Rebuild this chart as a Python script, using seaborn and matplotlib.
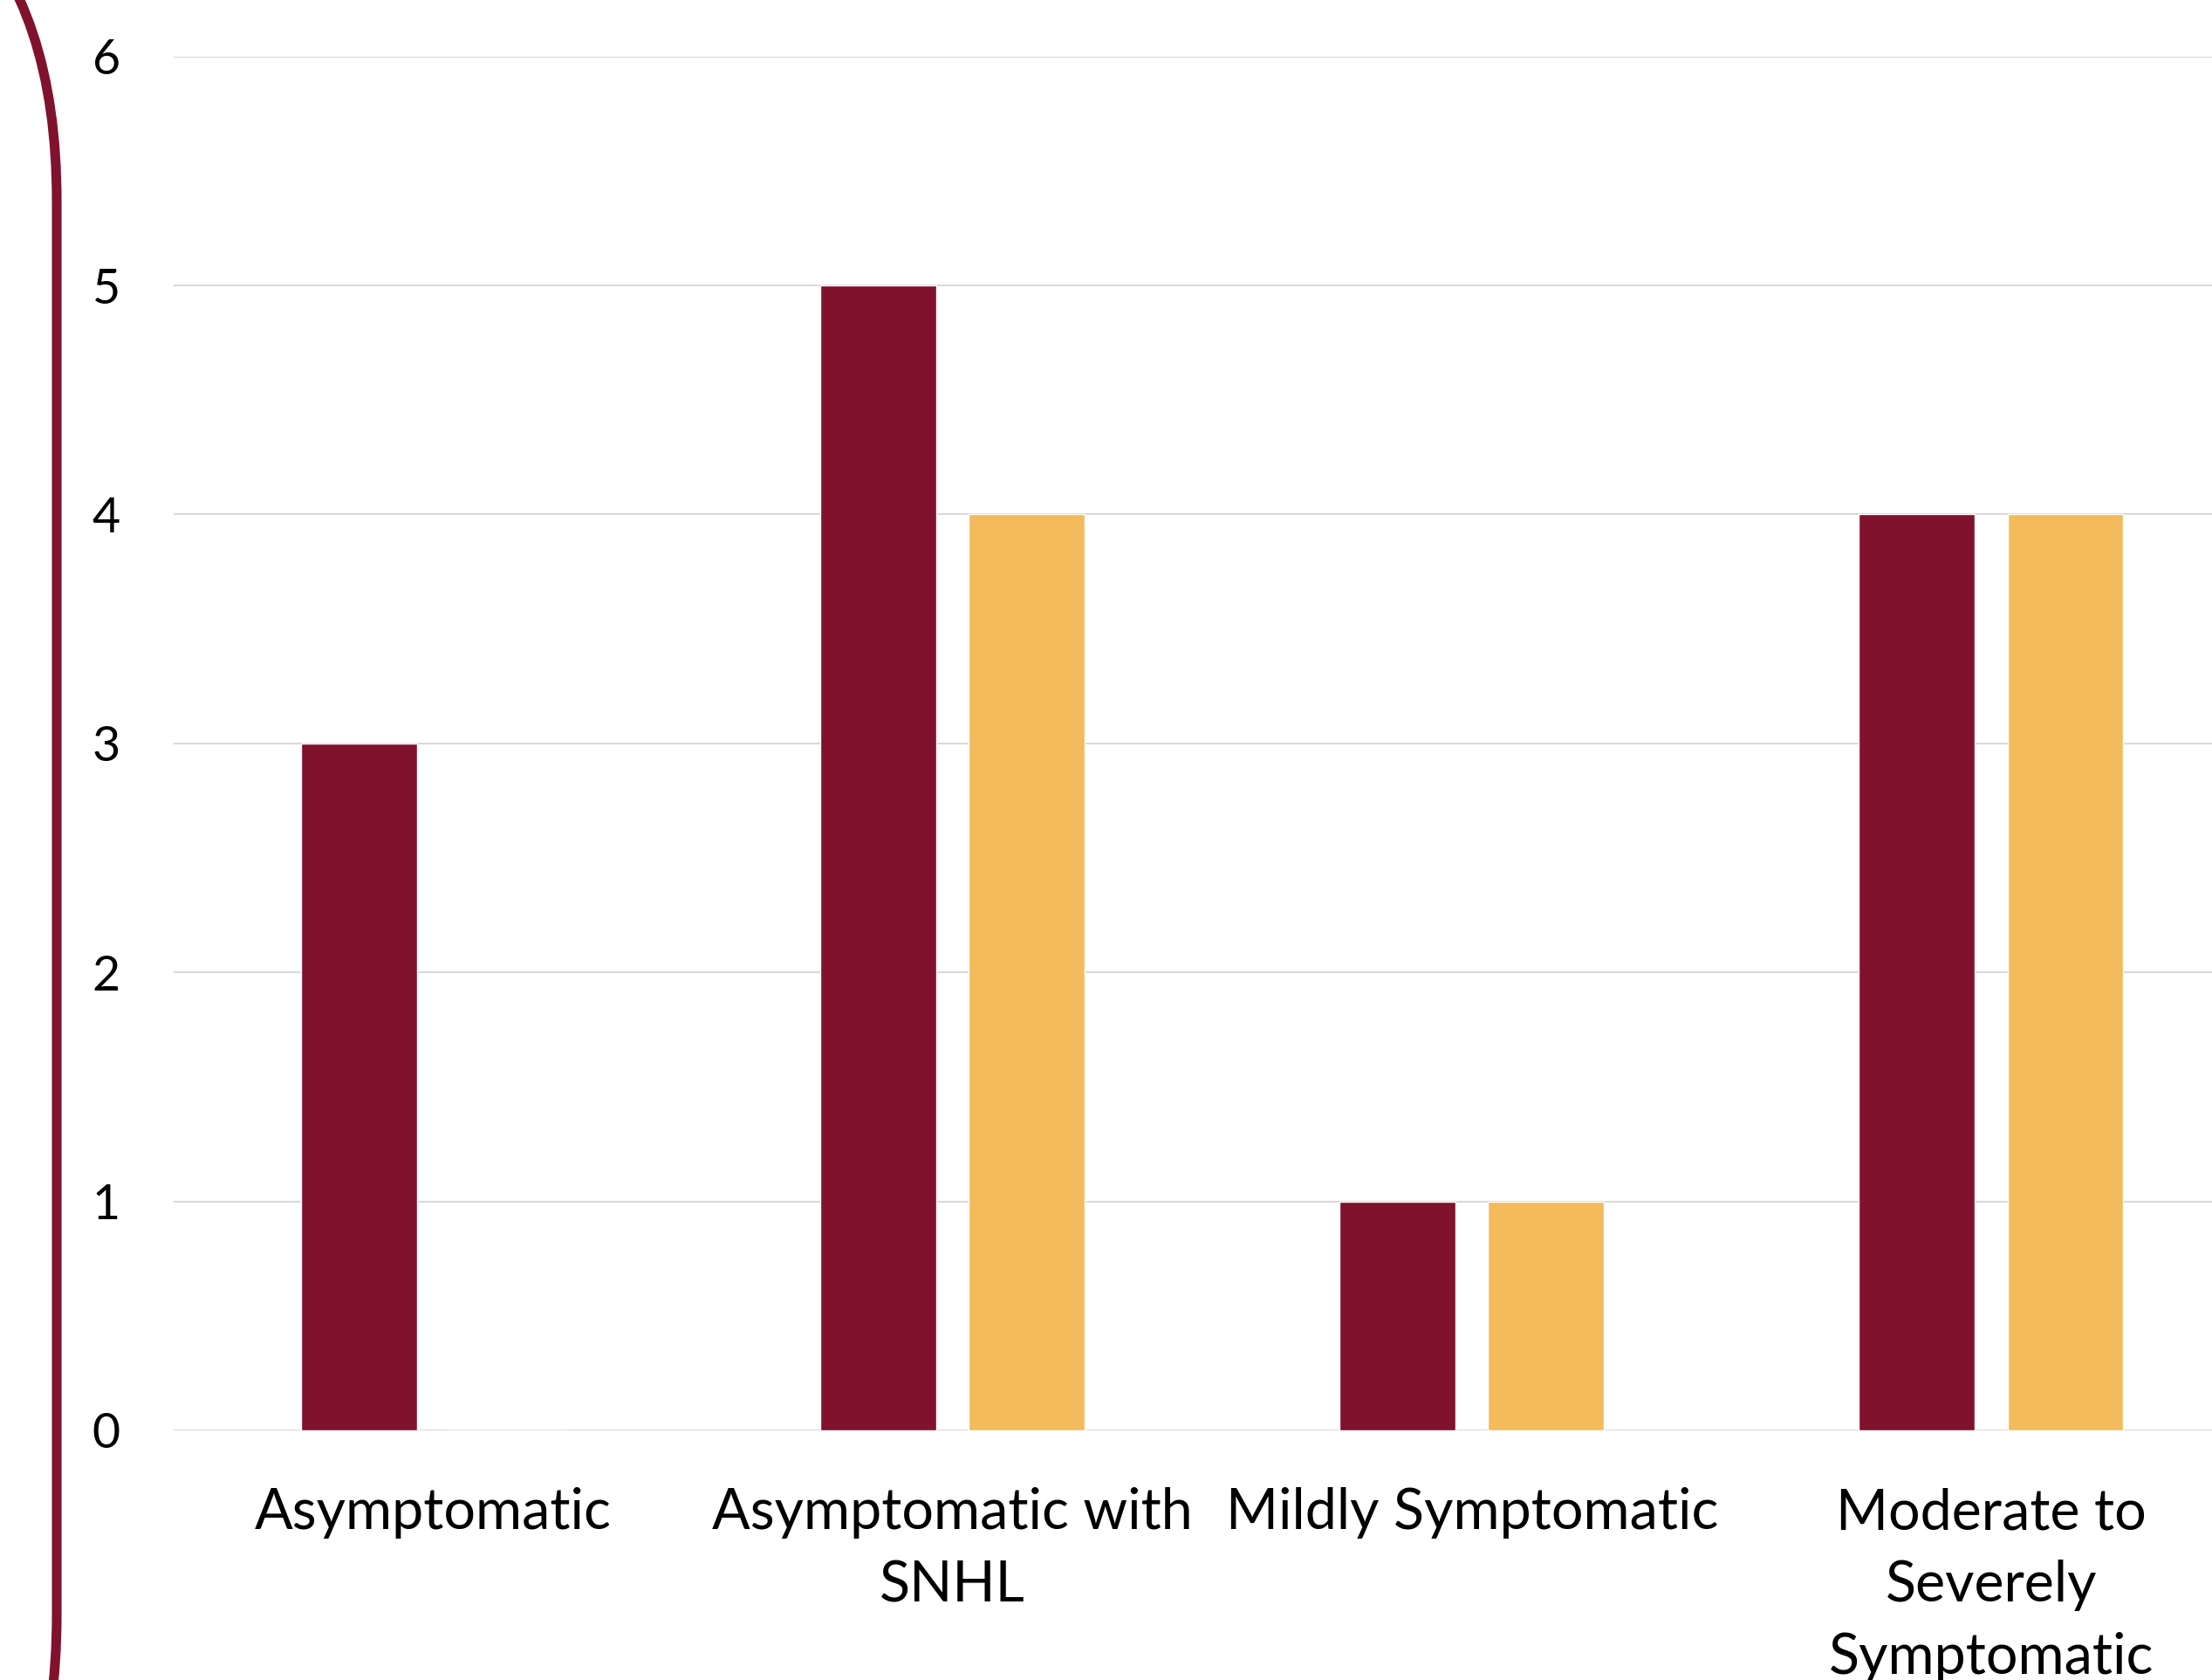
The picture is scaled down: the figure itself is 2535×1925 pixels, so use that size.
import pandas as pd
import matplotlib
matplotlib.use("Agg")
import matplotlib.pyplot as plt
from matplotlib.patches import FancyBboxPatch
import seaborn as sns

# --- данные ---
categories = ["Asymptomatic", "Asymptomatic with\nSNHL", "Mildly Symptomatic",
              "Moderate to\nSeverely\nSymptomatic"]
series_names = ["Series 1", "Series 2"]
series_1 = [3, 5, 1, 4]
series_2 = [0, 4, 1, 4]
y_ticks = [0, 1, 2, 3, 4, 5, 6]

dark_red = "#80122D"
gold = "#F3BB5C"

df = pd.DataFrame({
    "category": categories * 2,
    "group": [series_names[0]] * 4 + [series_names[1]] * 4,
    "count": series_1 + series_2,
})

sns.set_style("white")
plt.rcParams["font.family"] = ["Lato", "DejaVu Sans"]

fig = plt.figure(figsize=(25.35, 19.25), dpi=100)

# фоновая рамка (скруглённая линия слева)
bg = fig.add_axes([0, 0, 1, 1], zorder=0)
bg.set_xlim(0, 2535)
bg.set_ylim(1925, 0)
bg.axis("off")
bg.add_patch(FancyBboxPatch((-2000, -209), 2065, 2499,
                            boxstyle="round,pad=0,rounding_size=439",
                            fill=False, ec=dark_red, lw=8))

ax = fig.add_axes([0.0785, 0.1486, 0.939, 0.8178], zorder=1)
ax.patch.set_alpha(0)
sns.barplot(data=df, x="category", y="count", hue="group",
            palette=[dark_red, gold], width=0.572, gap=0.22,
            saturation=1, legend=False, ax=ax)

ax.set_xlim(-0.5, 3.5)
ax.set_ylim(0, 6)
ax.set_yticks(y_ticks)
ax.set_xlabel("")
ax.set_ylabel("")
ax.grid(axis="y", color="#D9D9D9", lw=1.5)
ax.set_axisbelow(True)
sns.despine(ax=ax, left=True, bottom=True, top=True, right=True)
ax.tick_params(axis="both", length=0, labelcolor="black")
ax.tick_params(axis="y", pad=44, labelsize=40)
ax.tick_params(axis="x", pad=47, labelsize=46.5)
for lbl in ax.get_xticklabels():
    lbl.set_linespacing(1.5)

fig.savefig("out.png", dpi=100)
